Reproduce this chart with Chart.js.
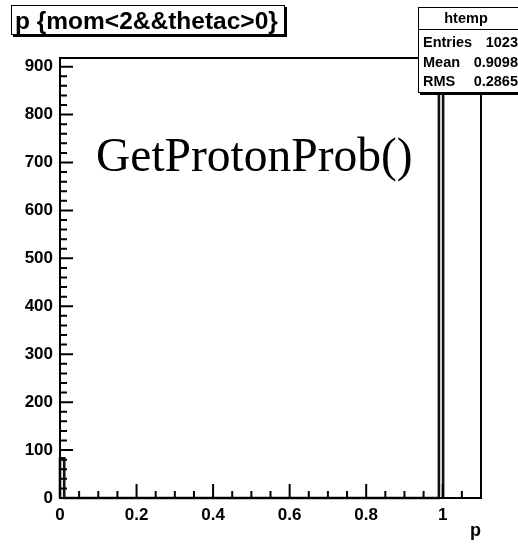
<!DOCTYPE html>
<html>
<head>
<meta charset="utf-8">
<script src="https://cdn.jsdelivr.net/npm/chart.js@4.4.0/dist/chart.umd.min.js"></script>
<style>
  html, body { margin: 0; padding: 0; background: #fff; }
  #wrap { position: relative; width: 518px; height: 544px; overflow: hidden; }
  canvas { position: absolute; left: 0; top: 0; }
  .titlebox { position: absolute; left: 11px; top: 5px; width: 269px; height: 28px;
    border: 1.5px solid #000; box-shadow: 2px 2px 0 #000; background: #fff;
    font: bold 24.5px "Liberation Sans", Arial, sans-serif; line-height: 29px; padding-left: 3px; white-space: nowrap; overflow: hidden; }
  .stats { position: absolute; left: 418px; top: 7px; width: 104px; height: 84px;
    border: 1.5px solid #000; box-shadow: 2px 2px 0 #000; background: #fff;
    font: bold 14.5px "Liberation Sans", Arial, sans-serif; }
  .stats .hdr { height: 21px; border-bottom: 1.5px solid #000; text-align: center; line-height: 21px; padding-right: 10px; }
  .stats .rows { padding-top: 3px; }
  .stats .row { position: relative; height: 19.5px; line-height: 19.5px; padding-left: 4px; }
  .stats .row span { position: absolute; right: 5px; }
  .note { position: absolute; left: 96px; top: 128px; font: 47.5px "Liberation Serif", "Times New Roman", serif; white-space: nowrap; }
</style>
</head>
<body>
<div id="wrap">
  <canvas id="c" width="518" height="544"></canvas>
  <div class="titlebox">p {mom&lt;2&amp;&amp;thetac&gt;0}</div>
  <div class="note">GetProtonProb()</div>
  <div class="stats">
    <div class="hdr">htemp</div>
    <div class="rows">
      <div class="row">Entries<span>1023</span></div>
      <div class="row">Mean<span>0.9098</span></div>
      <div class="row">RMS<span>0.2865</span></div>
    </div>
  </div>
</div>
<script>
// ---- data ----
const binWidth = 0.011;            // 100 bins over [0, 1.1]
const binStarts = [0, 0.99];       // non-empty bins
const binCounts = [83, 873];
const xRange = [0, 1.1];
const yRange = [0, 918];
const xMajorTicks = [0, 0.2, 0.4, 0.6, 0.8, 1];
const xMinorTicks = [0.05, 0.1, 0.15, 0.25, 0.3, 0.35, 0.45, 0.5, 0.55, 0.65, 0.7, 0.75, 0.85, 0.9, 0.95, 1.05];
const yMajorTicks = [0, 100, 200, 300, 400, 500, 600, 700, 800, 900];
const yMinorStep = 20;

// histogram outline points built from bins
const outline = [];
binStarts.forEach((s, i) => {
  outline.push({x: s, y: 0}, {x: s, y: binCounts[i]}, {x: s + binWidth, y: binCounts[i]}, {x: s + binWidth, y: 0});
});

const frameTicks = {
  id: 'frameTicks',
  afterDatasetsDraw(chart) {
    const {ctx, chartArea: a, scales: {x, y}} = chart;
    ctx.save();
    ctx.strokeStyle = '#000';
    ctx.lineWidth = 2;
    ctx.strokeRect(a.left, a.top, a.right - a.left, a.bottom - a.top);
    ctx.beginPath();
    xMajorTicks.forEach(v => { const px = x.getPixelForValue(v); ctx.moveTo(px, a.bottom); ctx.lineTo(px, a.bottom - 14); });
    xMinorTicks.forEach(v => { const px = x.getPixelForValue(v); ctx.moveTo(px, a.bottom); ctx.lineTo(px, a.bottom - 7); });
    yMajorTicks.forEach(v => { const py = y.getPixelForValue(v); ctx.moveTo(a.left, py); ctx.lineTo(a.left + 13, py); });
    for (let v = 0; v <= yRange[1]; v += yMinorStep) {
      if (v % 100 === 0) continue;
      const py = y.getPixelForValue(v); ctx.moveTo(a.left, py); ctx.lineTo(a.left + 7, py);
    }
    ctx.stroke();
    ctx.restore();
  }
};

new Chart(document.getElementById('c'), {
  type: 'line',
  data: {
    datasets: [{
      data: outline,
      borderColor: '#111',
      borderWidth: 2.6,
      pointRadius: 0,
      fill: false,
      tension: 0,
      clip: false
    }]
  },
  options: {
    responsive: false,
    animation: false,
    devicePixelRatio: 1,
    layout: { padding: { left: 0, right: 37, top: 58, bottom: 0 } },
    plugins: { legend: { display: false }, tooltip: { enabled: false } },
    scales: {
      x: {
        type: 'linear', min: xRange[0], max: xRange[1],
        afterBuildTicks: s => { s.ticks = xMajorTicks.map(v => ({value: v})); },
        afterFit: s => { s.height = 46; },
        grid: { display: false, drawTicks: false },
        border: { display: false },
        ticks: { color: '#000', font: { family: 'Liberation Sans', size: 17, weight: 'bold' }, padding: 7, maxRotation: 0, autoSkip: false, callback: v => String(v) },
        title: { display: true, text: 'p', align: 'end', color: '#000', font: { family: 'Liberation Sans', size: 18, weight: 'bold' }, padding: { top: 0, bottom: 2 } }
      },
      y: {
        type: 'linear', min: yRange[0], max: yRange[1],
        afterBuildTicks: s => { s.ticks = yMajorTicks.map(v => ({value: v})); },
        afterFit: s => { s.width = 60; },
        grid: { display: false, drawTicks: false },
        border: { display: false },
        ticks: { color: '#000', font: { family: 'Liberation Sans', size: 17, weight: 'bold' }, padding: 7, autoSkip: false, callback: v => String(v) }
      }
    }
  },
  plugins: [frameTicks]
});
</script>
</body>
</html>
